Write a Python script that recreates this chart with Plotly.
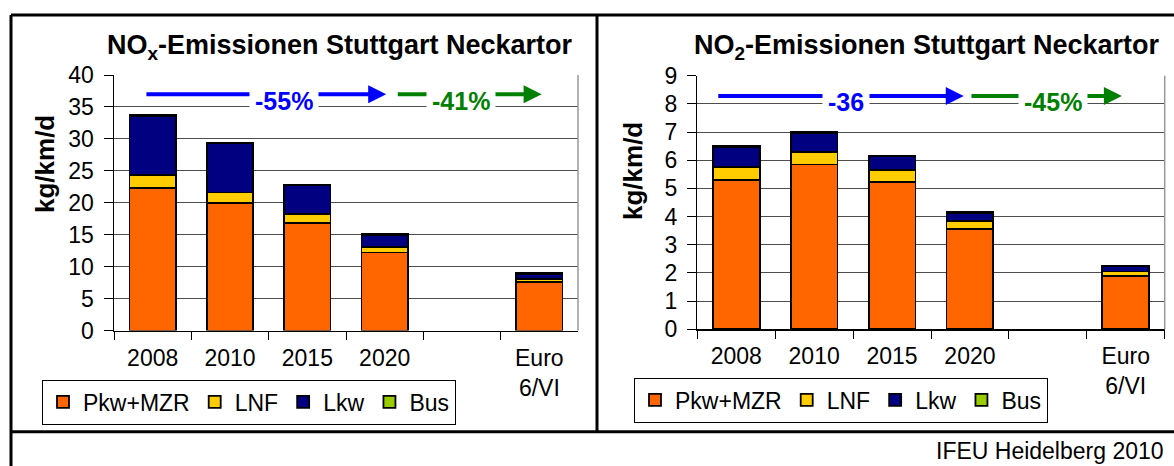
import plotly.graph_objects as go

W, H = 1174, 466

categories = ["2008", "2010", "2015", "2020", " ", "Euro<br>6/VI"]
series_names = ["Pkw+MZR", "LNF", "Lkw", "Bus"]
series_colors = ["#FF6600", "#FFCC00", "#000080", "#99CC00"]

# NOx (kg/km/d)
nox_pkw = [22.3, 19.9, 16.8, 12.2, None, 7.6]
nox_lnf = [2.0, 1.7, 1.5, 0.9, None, 0.5]
nox_lkw = [9.3, 7.7, 4.4, 1.9, None, 0.8]
nox_bus = [0.1, 0.1, 0.1, 0.1, None, 0.05]

# NO2 (kg/km/d)
no2_pkw = [5.31, 5.85, 5.24, 3.57, None, 1.90]
no2_lnf = [0.44, 0.45, 0.42, 0.27, None, 0.15]
no2_lkw = [0.73, 0.67, 0.48, 0.30, None, 0.20]
no2_bus = [0.02, 0.02, 0.02, 0.01, None, 0.01]

nox_yticks = [0, 5, 10, 15, 20, 25, 30, 35, 40]
no2_yticks = [0, 1, 2, 3, 4, 5, 6, 7, 8, 9]

FONT = "Arial, Liberation Sans, sans-serif"

def px_x(p):
    return p / W

def px_y(p):
    return 1 - p / H

fig = go.Figure()

nox = [nox_pkw, nox_lnf, nox_lkw, nox_bus]
no2 = [no2_pkw, no2_lnf, no2_lkw, no2_bus]
for name, col, vals in zip(series_names, series_colors, nox):
    fig.add_trace(go.Bar(x=categories, y=vals, name=name, marker=dict(color=col, line=dict(color="black", width=1.8)),
                         xaxis="x", yaxis="y", legend="legend"))
for name, col, vals in zip(series_names, series_colors, no2):
    fig.add_trace(go.Bar(x=categories, y=vals, name=name, marker=dict(color=col, line=dict(color="black", width=1.8)),
                         xaxis="x2", yaxis="y2", legend="legend2"))

xcommon = dict(type="category", categoryorder="array", categoryarray=categories,
               showline=True, linecolor="black", linewidth=1.5, ticks="outside", tickson="boundaries",
               ticklen=8, tickcolor="black", tickwidth=1, showgrid=False, zeroline=False,
               ticklabelstandoff=6, automargin=False,
               tickfont=dict(family=FONT, size=23, color="black"), fixedrange=True)
ycommon = dict(showline=True, linecolor="black", linewidth=1.5, ticks="outside", ticklen=9,
               tickcolor="black", tickwidth=1, showgrid=True, gridcolor="#4d4d4d", gridwidth=1,
               ticklabelstandoff=5, automargin=False,
               zeroline=False, tickfont=dict(family=FONT, size=23, color="black"), fixedrange=True)

legcommon = dict(orientation="h", xanchor="left", yanchor="middle",
                 font=dict(family=FONT, size=23, color="black"), bordercolor="black", borderwidth=1,
                 bgcolor="white", itemwidth=30, traceorder="normal", tracegroupgap=0)

fig.update_layout(
    template="none",
    autosize=False,
    width=W, height=H,
    margin=dict(l=0, r=0, t=0, b=0, pad=0, autoexpand=False),
    paper_bgcolor="white", plot_bgcolor="white",
    barmode="stack", bargap=0.4,
    xaxis=dict(domain=[px_x(114), px_x(578)], anchor="y", **xcommon),
    yaxis=dict(domain=[px_y(330.5), px_y(75)], anchor="x", range=[0, 40], tickvals=nox_yticks, **ycommon),
    xaxis2=dict(domain=[px_x(697.3), px_x(1164.7)], anchor="y2", **xcommon),
    yaxis2=dict(domain=[px_y(329.3), px_y(75.7)], anchor="x2", range=[0, 9], tickvals=no2_yticks, **ycommon),
    legend=dict(x=px_x(42), y=px_y(402), **legcommon),
    legend2=dict(x=px_x(634), y=px_y(400), **legcommon),
    showlegend=True,
)

shapes = []
frame = dict(type="line", xref="paper", yref="paper", line=dict(color="black", width=3))
shapes.append(dict(frame, x0=px_x(11), x1=1.0, y0=px_y(15), y1=px_y(15)))
shapes.append(dict(frame, x0=px_x(11), x1=px_x(11), y0=px_y(15), y1=0.0))
shapes.append(dict(frame, x0=px_x(597), x1=px_x(597), y0=px_y(15), y1=px_y(431.7)))
shapes.append(dict(frame, x0=px_x(11), x1=1.0, y0=px_y(431.7), y1=px_y(431.7)))
for xr, yr in [("x domain", "y domain"), ("x2 domain", "y2 domain")]:
    shapes.append(dict(type="line", xref=xr, yref=yr, x0=1, x1=1, y0=0, y1=1,
                       line=dict(color="#999999", width=1.5)))
fig.update_layout(shapes=shapes)

ann = []
BLUE = "#0000FF"
GREEN = "#008000"

def arrow(xr, yr, x_tail, x_tip, y, color):
    return dict(xref=xr, yref=yr, x=x_tip, y=y, ax=x_tail, ay=y, axref=xr, ayref=yr,
                text="", showarrow=True, arrowhead=2, arrowsize=0.9, arrowwidth=4,
                arrowcolor=color, standoff=0, startstandoff=0)

def label(xr, yr, x, y, text, color):
    return dict(xref=xr, yref=yr, x=x, y=y, text="<b>%s</b>" % text, showarrow=False,
                font=dict(family=FONT, size=25, color=color), bgcolor="white", borderpad=5,
                xanchor="center", yanchor="middle")

ann.append(arrow("x", "y", -0.1, 3.02, 37.0, BLUE))
ann.append(arrow("x", "y", 3.15, 5.03, 37.0, GREEN))
ann.append(arrow("x2", "y2", -0.25, 2.92, 8.28, BLUE))
ann.append(arrow("x2", "y2", 3.0, 4.95, 8.28, GREEN))
ann.append(label("x", "y", 1.70, 36.0, "-55%", BLUE))
ann.append(label("x", "y", 3.99, 36.0, "-41%", GREEN))
ann.append(label("x2", "y2", 1.41, 8.05, "-36", BLUE))
ann.append(label("x2", "y2", 4.07, 8.05, "-45%", GREEN))

ann.append(dict(xref="paper", yref="paper", x=px_x(340), y=px_y(47), text="<b>NO<sub>x</sub>-Emissionen Stuttgart Neckartor</b>",
                showarrow=False, font=dict(family=FONT, size=27, color="black"), xanchor="center", yanchor="middle"))
ann.append(dict(xref="paper", yref="paper", x=px_x(927), y=px_y(47), text="<b>NO<sub>2</sub>-Emissionen Stuttgart Neckartor</b>",
                showarrow=False, font=dict(family=FONT, size=27, color="black"), xanchor="center", yanchor="middle"))
ann.append(dict(xref="paper", yref="paper", x=px_x(45), y=px_y(164), text="<b>kg/km/d</b>", textangle=-90,
                showarrow=False, font=dict(family=FONT, size=26, color="black"), xanchor="center", yanchor="middle"))
ann.append(dict(xref="paper", yref="paper", x=px_x(633), y=px_y(171), text="<b>kg/km/d</b>", textangle=-90,
                showarrow=False, font=dict(family=FONT, size=26, color="black"), xanchor="center", yanchor="middle"))
ann.append(dict(xref="paper", yref="paper", x=px_x(1166), y=px_y(451), text="IFEU Heidelberg 2010",
                showarrow=False, font=dict(family=FONT, size=23, color="black"), xanchor="right", yanchor="middle"))
fig.update_layout(annotations=ann)

fig.write_html("out.html", config={"displayModeBar": False, "staticPlot": True},
               post_script="document.body.style.margin='0';document.body.style.overflow='hidden';")
